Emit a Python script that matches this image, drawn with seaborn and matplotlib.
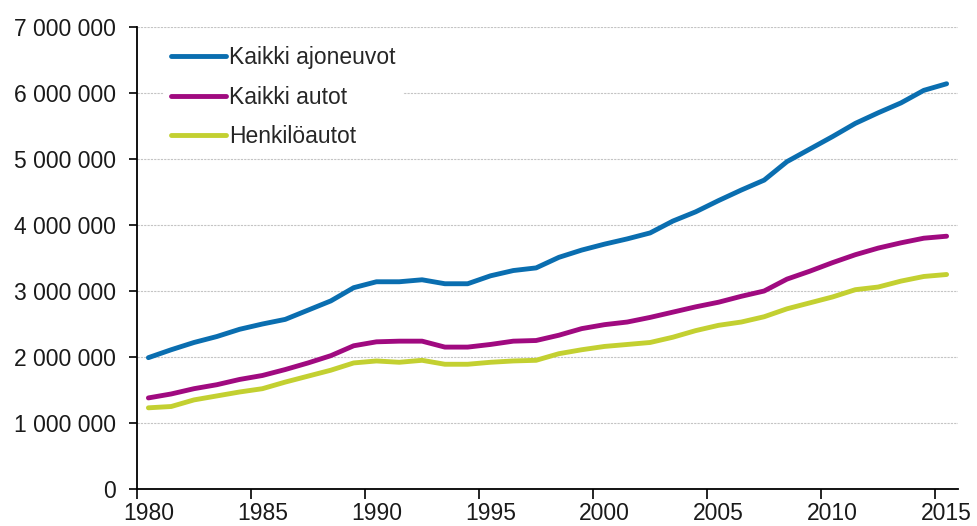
import matplotlib
matplotlib.use("Agg")
import matplotlib.pyplot as plt
import matplotlib.ticker as mticker
import seaborn as sns
import pandas as pd
import numpy as np

years = list(range(1980, 2016))
kaikki_ajoneuvot = [1990000, 2110000, 2220000, 2310000, 2420000, 2500000, 2570000, 2710000,
                    2850000, 3050000, 3140000, 3140000, 3170000, 3110000, 3110000, 3230000,
                    3310000, 3350000, 3510000, 3620000, 3710000, 3790000, 3880000, 4060000,
                    4200000, 4370000, 4530000, 4680000, 4960000, 5150000, 5340000, 5540000,
                    5700000, 5850000, 6040000, 6140000]
kaikki_autot = [1380000, 1440000, 1520000, 1580000, 1660000, 1720000, 1810000, 1910000,
                2020000, 2170000, 2230000, 2240000, 2240000, 2150000, 2150000, 2190000,
                2240000, 2250000, 2330000, 2430000, 2490000, 2530000, 2600000, 2680000,
                2760000, 2830000, 2920000, 3000000, 3180000, 3300000, 3430000, 3550000,
                3650000, 3730000, 3800000, 3830000]
henkiloautot = [1230000, 1250000, 1350000, 1410000, 1470000, 1520000, 1620000, 1710000,
                1800000, 1910000, 1940000, 1920000, 1950000, 1890000, 1890000, 1920000,
                1940000, 1950000, 2050000, 2110000, 2160000, 2190000, 2220000, 2300000,
                2400000, 2480000, 2530000, 2610000, 2730000, 2820000, 2910000, 3020000,
                3060000, 3150000, 3220000, 3250000]
series_names = ["Kaikki ajoneuvot", "Kaikki autot", "Henkilöautot"]
colors = ["#0a6eb0", "#a00a80", "#c3d031"]
tick_years = [1980, 1985, 1990, 1995, 2000, 2005, 2010, 2015]
y_ticks = [0, 1000000, 2000000, 3000000, 4000000, 5000000, 6000000, 7000000]

sns.set_style("white")
plt.rcParams["font.family"] = ["Liberation Sans", "DejaVu Sans"]

rows = []
for name, vals in zip(series_names, [kaikki_ajoneuvot, kaikki_autot, henkiloautot]):
    for y, v in zip(years, vals):
        rows.append({"Vuosi": y + 0.5, "Määrä": v, "Sarja": name})
df = pd.DataFrame(rows)

fig = plt.figure(figsize=(9.77, 5.26), dpi=100)
ax = fig.add_axes([137 / 977, 37 / 526, 821 / 977, 462 / 526])

sns.lineplot(data=df, x="Vuosi", y="Määrä", hue="Sarja", hue_order=series_names,
             palette=colors, linewidth=3.5, ax=ax, legend=True)
for ln in ax.get_lines():
    ln.set_solid_capstyle("round")
    ln.set_solid_joinstyle("round")

ax.set_xlim(1980, 2016)
ax.set_ylim(0, 7000000)
ax.set_yticks(y_ticks)
ax.yaxis.set_major_formatter(mticker.FuncFormatter(lambda v, p: f"{int(v):,}".replace(",", " ")))

# ticks at category boundaries, labels centred on categories
ax.set_xticks(tick_years)
ax.set_xticklabels([])
ax.set_xticks([y + 0.5 for y in tick_years], minor=True)
ax.set_xticklabels([str(y) for y in tick_years], minor=True)
ax.tick_params(axis="x", which="major", length=7, width=1.2, color="black", direction="out")
ax.tick_params(axis="x", which="minor", length=0, pad=9, labelsize=16.5, labelcolor="#1a1a1a")
ax.tick_params(axis="y", length=6, width=1.2, color="black", direction="out", pad=9,
               labelsize=16.5, labelcolor="#1a1a1a")
ax.tick_params(bottom=True, left=True)

ax.set_xlabel("")
ax.set_ylabel("")
ax.yaxis.grid(True, color="#c4c4c4", linestyle=(0, (2, 1)), linewidth=0.8)
ax.xaxis.grid(False)
ax.set_axisbelow(True)
for s in ["top", "right"]:
    ax.spines[s].set_visible(False)
for s in ["left", "bottom"]:
    ax.spines[s].set_color("black")
    ax.spines[s].set_linewidth(1.3)

handles, labels = ax.get_legend_handles_labels()
leg = ax.legend(handles, labels, loc="upper left", bbox_to_anchor=(0.0327, 0.9735),
                frameon=True, fontsize=16.5, handlelength=2.4, handletextpad=0.15,
                labelspacing=0.72, borderpad=0.3, borderaxespad=0)
leg.get_frame().set_facecolor("white")
leg.get_frame().set_edgecolor("none")
leg.get_frame().set_alpha(1)
for lh in leg.get_lines():
    lh.set_linewidth(3.5)
    lh.set_solid_capstyle("round")

fig.savefig("out.png", dpi=100)
